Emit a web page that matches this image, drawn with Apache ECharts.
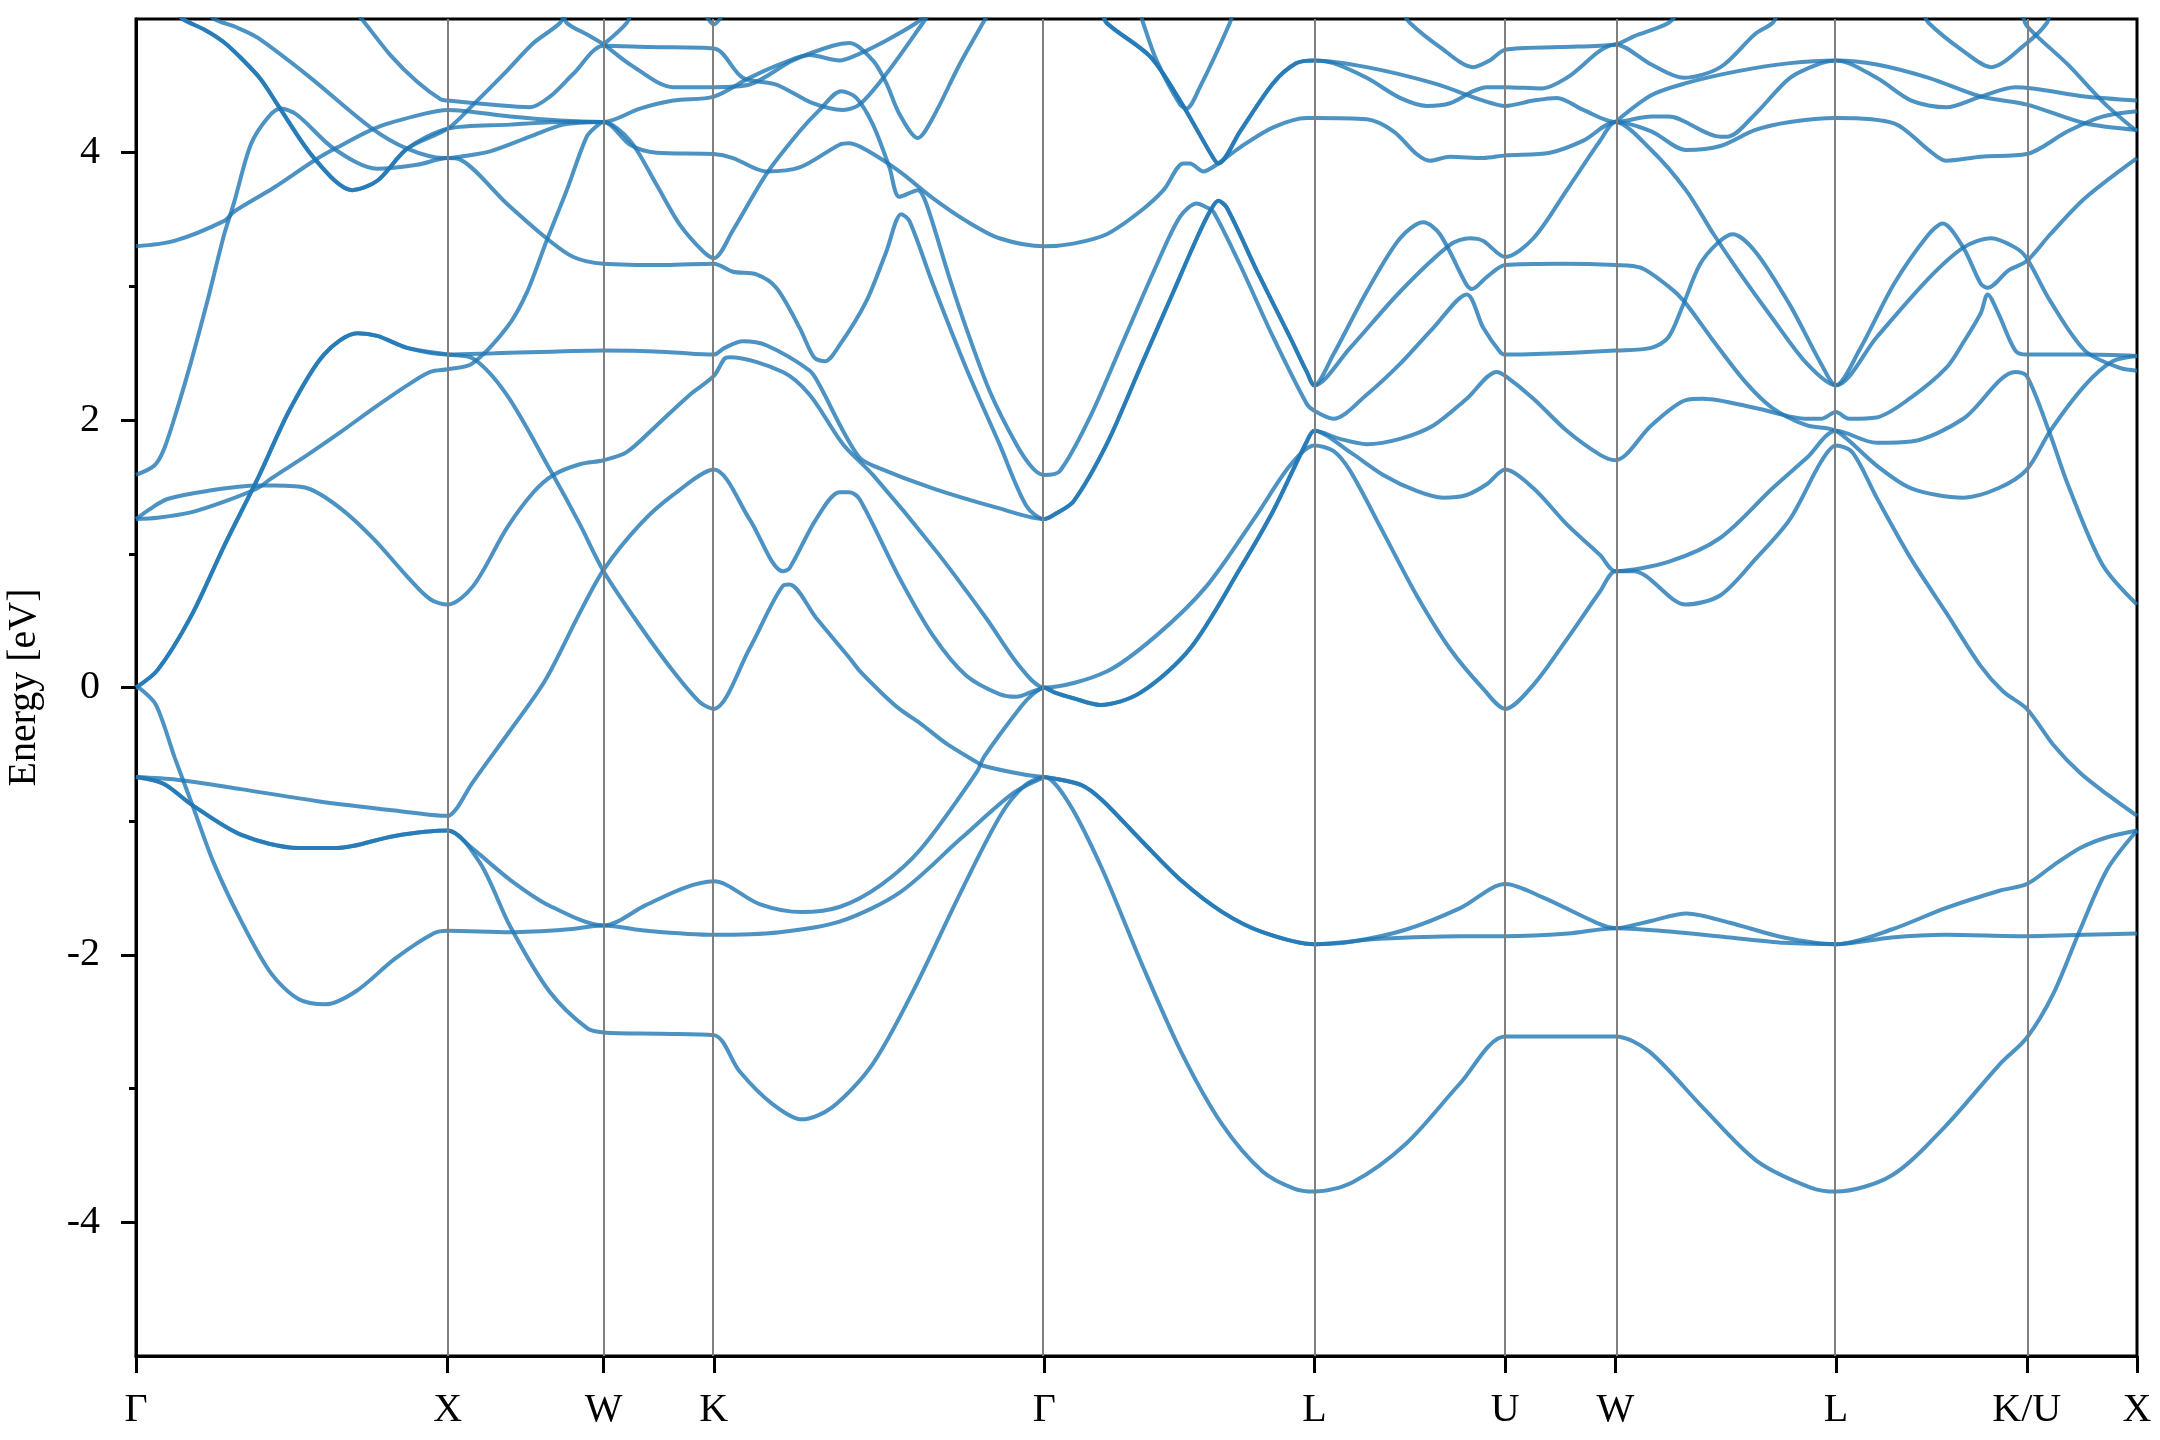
<!DOCTYPE html>
<html><head><meta charset="utf-8">
<script src="https://cdn.jsdelivr.net/npm/echarts@6/dist/echarts.min.js"></script>
<style>html,body{margin:0;padding:0;background:#fff}#c{width:2160px;height:1440px}</style>
</head><body><div id="c"></div>
<script>
// high-symmetry path positions and labels
const kPts = [0, 1, 1.5, 1.853553, 2.914214, 3.780239, 4.392611, 4.746165, 5.453272, 6.065644, 6.419197];
const kLabels = ['Γ','X','W','K','Γ','L','U','W','L','K/U','X'];
const yMajor = [-4,-2,0,2,4];
const yMinor = [-3,-1,1,3];

// bands: [k, energy (eV)]
const b01 = [[0,0],[0.014,-0.01],[0.064,-0.13],[0.125,-0.53],[0.181,-0.88],[0.249,-1.31],[0.336,-1.74],[0.434,-2.14],[0.521,-2.33],[0.608,-2.37],[0.707,-2.27],[0.83,-2.03],[0.954,-1.84],[1.0,-1.82],[1.2,-1.83],[1.38,-1.81],[1.5,-1.78],[1.64,-1.82],[1.8536,-1.85],[2.065,-1.83],[2.259,-1.75],[2.452,-1.53],[2.646,-1.13],[2.814,-0.79],[2.914,-0.67]];
const b02 = [[0,-0.67],[0.088,-0.72],[0.181,-0.88],[0.336,-1.10],[0.521,-1.20],[0.645,-1.20],[0.83,-1.11],[1.0,-1.07],[1.077,-1.20],[1.201,-1.44],[1.325,-1.63],[1.5,-1.78],[1.634,-1.63],[1.757,-1.50],[1.8536,-1.45],[2.0,-1.62],[2.136,-1.68],[2.259,-1.64],[2.388,-1.48],[2.517,-1.21],[2.698,-0.63],[2.72,-0.52],[2.84,-0.14],[2.877,-0.05],[2.914,0],[2.95,-0.04],[3.007,-0.08],[3.093,-0.13],[3.221,-0.04],[3.381,0.29],[3.542,0.89],[3.648,1.32],[3.756,1.84],[3.7802,1.92],[3.862,1.86],[3.948,1.82],[4.055,1.86],[4.162,1.96],[4.269,2.16],[4.365,2.36],[4.3926,2.33],[4.483,2.16],[4.59,1.92],[4.697,1.74],[4.7462,1.70],[4.861,1.96],[4.972,2.15],[5.028,2.16],[5.195,2.09],[5.361,2.01],[5.406,2.01],[5.4533,2.06],[5.495,2.01],[5.584,2.02],[5.695,2.17],[5.807,2.39],[5.862,2.58],[5.918,2.80],[5.94,2.94],[5.974,2.80],[6.029,2.52],[6.0657,2.49],[6.25,2.49],[6.4193,2.48]];
const b03 = [[0,-0.67],[0.088,-0.72],[0.181,-0.88],[0.336,-1.10],[0.521,-1.20],[0.645,-1.20],[0.83,-1.11],[1.0,-1.07],[1.103,-1.31],[1.201,-1.79],[1.325,-2.27],[1.448,-2.55],[1.5,-2.58],[1.68,-2.59],[1.8536,-2.6],[1.936,-2.87],[2.039,-3.11],[2.136,-3.23],[2.233,-3.14],[2.362,-2.82],[2.491,-2.28],[2.646,-1.53],[2.775,-0.95],[2.853,-0.73],[2.914,-0.67],[2.994,-0.87],[3.098,-1.35],[3.227,-2.07],[3.356,-2.74],[3.485,-3.27],[3.614,-3.62],[3.717,-3.75],[3.7802,-3.77],[3.903,-3.70],[4.075,-3.41],[4.248,-2.96],[4.3926,-2.61],[4.57,-2.61],[4.7462,-2.61],[4.853,-2.72],[5.026,-3.14],[5.199,-3.54],[5.372,-3.74],[5.4533,-3.77],[5.632,-3.65],[5.805,-3.28],[5.978,-2.82],[6.0657,-2.62],[6.151,-2.29],[6.237,-1.81],[6.324,-1.36],[6.4193,-1.07]];
const b04 = [[0,-0.67],[0.131,-0.69],[0.336,-0.76],[0.583,-0.85],[0.83,-0.92],[1.0,-0.96],[1.03,-0.90],[1.077,-0.72],[1.201,-0.32],[1.312,0.05],[1.424,0.56],[1.5,0.88],[1.617,1.22],[1.723,1.44],[1.8536,1.63],[1.968,1.26],[2.075,0.87],[2.096,0.89],[2.182,1.26],[2.257,1.46],[2.289,1.46],[2.321,1.41],[2.449,0.82],[2.556,0.39],[2.663,0.09],[2.77,-0.05],[2.824,-0.07],[2.877,-0.03],[2.914,0]];
const b06 = [[0,0],[0.069,0.13],[0.176,0.53],[0.283,1.06],[0.39,1.56],[0.496,2.09],[0.603,2.49],[0.71,2.65],[0.774,2.63],[0.87,2.54],[1.0,2.49],[1.15,2.50],[1.3,2.51],[1.5,2.52],[1.7,2.51],[1.8536,2.49],[1.888,2.54],[1.947,2.59],[2.022,2.56],[2.161,2.37],[2.193,2.26],[2.268,1.92],[2.321,1.72],[2.364,1.66],[2.556,1.49],[2.77,1.34],[2.914,1.26],[2.95,1.30],[3.007,1.39],[3.114,1.82],[3.221,2.39],[3.328,2.96],[3.403,3.36],[3.445,3.56],[3.472,3.64],[3.499,3.59],[3.595,3.12],[3.702,2.62],[3.756,2.36],[3.7802,2.26],[3.895,2.54],[4.055,2.96],[4.215,3.31],[4.279,3.36],[4.322,3.34],[4.3926,3.22],[4.483,3.36],[4.59,3.72],[4.697,4.09],[4.7462,4.23],[4.861,4.02],[4.972,3.72],[5.061,3.39],[5.139,3.12],[5.25,2.76],[5.361,2.42],[5.4533,2.26],[5.584,2.62],[5.751,3.06],[5.862,3.29],[5.951,3.36],[6.029,3.29],[6.0657,3.21],[6.141,2.89],[6.252,2.52],[6.364,2.39],[6.4193,2.37]];
const b07 = [[0,0],[0.069,0.13],[0.176,0.53],[0.283,1.06],[0.39,1.56],[0.496,2.09],[0.603,2.49],[0.71,2.65],[0.774,2.63],[0.87,2.54],[1.0,2.49],[1.082,2.46],[1.189,2.19],[1.328,1.63],[1.424,1.22],[1.5,0.87],[1.617,0.46],[1.724,0.12],[1.809,-0.11],[1.8536,-0.16],[1.968,0.29],[2.075,0.76],[2.096,0.77],[2.182,0.52],[2.289,0.22],[2.323,0.12],[2.396,-0.05],[2.449,-0.16],[2.517,-0.27],[2.6,-0.42],[2.698,-0.56],[2.717,-0.585],[2.84,-0.647],[2.914,-0.67]];
const b08 = [[0,1.26],[0.069,1.27],[0.176,1.31],[0.283,1.39],[0.39,1.49],[0.432,1.56],[0.55,1.74],[0.656,1.91],[0.763,2.09],[0.87,2.26],[0.944,2.36],[1.0,2.38],[1.077,2.42],[1.189,2.69],[1.253,2.95],[1.317,3.34],[1.382,3.72],[1.446,4.12],[1.478,4.2],[1.5,4.23],[1.585,4.09],[1.67,3.76],[1.745,3.46],[1.82,3.26],[1.8536,3.21],[1.915,3.42],[2.022,3.84],[2.129,4.16],[2.193,4.32],[2.262,4.46],[2.311,4.41],[2.364,4.21],[2.417,3.89],[2.449,3.67],[2.508,3.72],[2.535,3.62],[2.61,3.06],[2.663,2.69],[2.738,2.22],[2.824,1.82],[2.877,1.64],[2.914,1.59],[2.964,1.62],[3.06,2.02],[3.167,2.59],[3.274,3.16],[3.349,3.52],[3.403,3.62],[3.435,3.59],[3.456,3.56],[3.542,3.16],[3.648,2.62],[3.756,2.12],[3.7802,2.07],[3.841,2.01],[3.948,2.19],[4.055,2.42],[4.162,2.69],[4.269,2.94],[4.322,2.69],[4.376,2.51],[4.3926,2.49],[4.57,2.50],[4.7462,2.52],[4.861,2.54],[4.916,2.62],[4.961,2.85],[5.016,3.16],[5.072,3.32],[5.122,3.39],[5.195,3.26],[5.306,2.86],[5.406,2.42],[5.4533,2.26],[5.528,2.52],[5.64,3.02],[5.751,3.39],[5.796,3.47],[5.862,3.29],[5.918,3.02],[5.94,2.99],[6.007,3.12],[6.0657,3.19],[6.141,3.39],[6.252,3.66],[6.4193,3.96]];
const b09 = [[0,1.26],[0.048,1.34],[0.101,1.41],[0.229,1.47],[0.39,1.51],[0.443,1.51],[0.55,1.49],[0.656,1.34],[0.763,1.11],[0.87,0.83],[0.944,0.66],[1.0,0.62],[1.082,0.76],[1.189,1.19],[1.275,1.46],[1.339,1.59],[1.424,1.67],[1.5,1.70],[1.574,1.76],[1.67,1.96],[1.777,2.19],[1.8536,2.33],[1.888,2.46],[1.905,2.47],[2.075,2.36],[2.161,2.19],[2.268,1.82],[2.364,1.59],[2.567,1.02],[2.727,0.52],[2.834,0.16],[2.914,0],[3.114,0.12],[3.274,0.39],[3.435,0.76],[3.595,1.29],[3.702,1.66],[3.7802,1.81],[3.841,1.77],[3.895,1.62],[4.001,1.16],[4.108,0.69],[4.215,0.29],[4.322,-0.01],[4.3926,-0.16],[4.483,0.02],[4.59,0.36],[4.697,0.72],[4.7462,0.87],[4.805,0.87],[4.972,0.62],[5.083,0.69],[5.195,0.96],[5.306,1.26],[5.406,1.69],[5.4533,1.81],[5.506,1.76],[5.584,1.42],[5.695,0.96],[5.807,0.56],[5.918,0.16],[5.99,-0.03],[6.0657,-0.16],[6.151,-0.43],[6.237,-0.64],[6.324,-0.80],[6.4193,-0.96]];
const b10 = [[0,1.59],[0.059,1.66],[0.091,1.79],[0.133,2.09],[0.176,2.43],[0.229,2.89],[0.283,3.39],[0.315,3.63],[0.368,4.06],[0.422,4.26],[0.464,4.33],[0.518,4.28],[0.635,4.03],[0.774,3.88],[0.902,3.91],[1.0,3.96],[1.039,3.95],[1.189,3.62],[1.317,3.36],[1.403,3.22],[1.5,3.17],[1.7,3.16],[1.8536,3.17],[1.915,3.11],[1.99,3.09],[2.054,2.99],[2.129,2.69],[2.175,2.47],[2.21,2.44],[2.257,2.56],[2.343,2.89],[2.407,3.26],[2.455,3.54],[2.481,3.49],[2.556,3.02],[2.663,2.39],[2.77,1.82],[2.856,1.36],[2.914,1.26],[2.95,1.30],[3.007,1.39],[3.114,1.82],[3.221,2.39],[3.328,2.96],[3.403,3.36],[3.445,3.56],[3.472,3.64],[3.499,3.59],[3.595,3.12],[3.702,2.62],[3.756,2.36],[3.7802,2.26],[3.841,2.49],[3.948,2.96],[4.055,3.36],[4.13,3.48],[4.183,3.39],[4.269,3.01],[4.285,2.98],[4.333,3.07],[4.3926,3.16],[4.57,3.17],[4.7462,3.16],[4.827,3.14],[4.916,3.00],[4.966,2.89],[5.061,2.59],[5.161,2.29],[5.25,2.09],[5.361,1.96],[5.4533,1.92],[5.584,1.66],[5.695,1.49],[5.862,1.42],[5.974,1.49],[6.0657,1.63],[6.141,1.92],[6.252,2.26],[6.341,2.44],[6.4193,2.48]];
const b12 = [[0,3.30],[0.123,3.34],[0.283,3.49],[0.315,3.56],[0.443,3.74],[0.571,3.94],[0.646,4.04],[0.774,4.19],[0.923,4.29],[1.0,4.32],[1.2,4.27],[1.36,4.24],[1.5,4.23],[1.617,4.33],[1.724,4.39],[1.8536,4.42],[1.968,4.56],[2.075,4.67],[2.161,4.73],[2.257,4.69],[2.311,4.73],[2.407,4.84],[2.503,4.97],[2.55,5.06]];
const b13 = [[0.13,5.06],[0.15,5.0],[0.22,4.92],[0.28,4.83],[0.336,4.71],[0.4,4.55],[0.454,4.36],[0.571,3.96],[0.694,3.72],[0.774,3.79],[0.87,4.03],[1.0,4.18],[1.082,4.36],[1.189,4.61],[1.275,4.82],[1.36,4.97],[1.38,5.06]];
const b14 = [[0.13,5.06],[0.15,5.0],[0.22,4.92],[0.28,4.83],[0.336,4.71],[0.4,4.55],[0.454,4.36],[0.571,3.96],[0.694,3.72],[0.774,3.79],[0.87,4.03],[1.0,4.18],[1.2,4.21],[1.36,4.23],[1.5,4.23],[1.585,4.06],[1.67,4.00],[1.8536,3.99],[1.915,3.96],[2.022,3.86],[2.129,3.89],[2.257,4.06],[2.289,4.07],[2.343,4.02],[2.449,3.86],[2.556,3.66],[2.663,3.49],[2.77,3.36],[2.914,3.30],[3.007,3.32],[3.114,3.39],[3.221,3.56],[3.296,3.72],[3.36,3.92],[3.381,3.92],[3.424,3.86],[3.466,3.91],[3.542,4.04],[3.648,4.19],[3.756,4.26],[3.7802,4.26],[3.948,4.25],[4.034,4.16],[4.108,3.99],[4.151,3.94],[4.215,3.97],[4.322,3.96],[4.3926,3.98],[4.536,4.0],[4.643,4.09],[4.7462,4.23],[4.861,4.16],[4.972,4.02],[5.083,4.05],[5.195,4.17],[5.306,4.23],[5.4533,4.26],[5.64,4.22],[5.751,4.02],[5.807,3.94],[5.918,3.97],[6.0657,3.99],[6.197,4.16],[6.308,4.27],[6.4193,4.31]];
const b15 = [[0.23,5.06],[0.25,5.0],[0.32,4.94],[0.39,4.86],[0.56,4.56],[0.752,4.19],[0.87,4.03],[0.987,3.96],[1.0,3.96],[1.039,3.97],[1.136,4.01],[1.264,4.12],[1.371,4.21],[1.5,4.23]];
const b16 = [[0.70,5.06],[0.731,4.98],[0.816,4.73],[0.902,4.53],[0.977,4.40],[1.0,4.39],[1.136,4.36],[1.264,4.34],[1.328,4.42],[1.403,4.59],[1.5,4.80],[1.65,4.79],[1.8536,4.78],[1.947,4.56],[2.054,4.51],[2.171,4.37],[2.268,4.32],[2.321,4.36],[2.407,4.59],[2.524,4.97],[2.55,5.06]];
const b17 = [[1.37,5.06],[1.382,4.97],[1.45,4.88],[1.5,4.81],[1.585,4.66],[1.724,4.49],[1.8536,4.49],[1.968,4.51],[2.107,4.69],[2.235,4.80],[2.289,4.82],[2.364,4.69],[2.407,4.52],[2.449,4.29],[2.508,4.11],[2.556,4.26],[2.642,4.66],[2.717,4.97],[2.74,5.06]];
const b18 = [[1.5,4.81],[1.574,4.97],[1.59,5.06]];
const b19 = [[1.82,5.06],[1.8536,4.96],[1.89,5.06]];
const b20 = [[3.1,5.06],[3.114,4.97],[3.253,4.72],[3.349,4.39],[3.456,3.96],[3.472,3.92],[3.542,4.16],[3.648,4.52],[3.723,4.67],[3.7802,4.69],[3.841,4.67],[3.948,4.56],[4.055,4.41],[4.141,4.35],[4.215,4.37],[4.29,4.46],[4.333,4.49],[4.3926,4.49],[4.51,4.48],[4.59,4.56],[4.7462,4.81],[4.861,4.66],[4.966,4.56],[5.083,4.64],[5.195,4.89],[5.25,4.97],[5.27,5.06]];
const b21 = [[3.1,5.06],[3.114,4.97],[3.253,4.72],[3.349,4.39],[3.456,3.96],[3.472,3.92],[3.542,4.16],[3.648,4.52],[3.723,4.67],[3.7802,4.69],[3.948,4.64],[4.162,4.52],[4.322,4.39],[4.3926,4.35],[4.483,4.39],[4.558,4.41],[4.643,4.32],[4.7462,4.23],[4.861,4.27],[4.916,4.27],[5.083,4.12],[5.106,4.12],[5.195,4.29],[5.306,4.56],[5.406,4.67],[5.4533,4.69],[5.584,4.66],[5.751,4.56],[5.918,4.42],[6.0657,4.36],[6.252,4.22],[6.4193,4.17]];
const b22 = [[3.22,5.06],[3.231,4.97],[3.274,4.69],[3.349,4.36],[3.37,4.33],[3.413,4.49],[3.509,4.97],[3.52,5.06]];
const b23 = [[4.7462,4.23],[4.861,4.43],[4.972,4.52],[5.139,4.61],[5.306,4.67],[5.4533,4.69],[5.584,4.56],[5.695,4.39],[5.807,4.34],[5.918,4.42],[6.029,4.49],[6.252,4.42],[6.4193,4.39]];
const b24 = [[4.06,5.06],[4.087,4.97],[4.183,4.79],[4.29,4.64],[4.343,4.69],[4.3926,4.77],[4.57,4.79],[4.7462,4.81],[4.805,4.87],[4.916,4.97],[4.95,5.06]];
const b25 = [[5.73,5.06],[5.751,4.97],[5.862,4.76],[5.951,4.64],[6.0657,4.82],[6.13,4.97],[6.14,5.06]];
const b26 = [[6.05,5.06],[6.0657,4.95],[6.197,4.66],[6.319,4.36],[6.4193,4.16]];
const b28 = [[2.914,0],[2.95,-0.04],[3.007,-0.08],[3.093,-0.13],[3.221,-0.04],[3.381,0.29],[3.542,0.89],[3.648,1.32],[3.756,1.84],[3.7802,1.92],[3.895,1.76],[4.001,1.59],[4.108,1.47],[4.194,1.42],[4.269,1.44],[4.333,1.52],[4.3926,1.63],[4.483,1.49],[4.59,1.22],[4.697,0.99],[4.7462,0.87],[4.916,0.94],[5.083,1.12],[5.25,1.49],[5.361,1.72],[5.4533,1.92],[5.584,1.83],[5.695,1.84],[5.862,2.01],[6.029,2.36],[6.0657,2.33],[6.141,1.89],[6.197,1.52],[6.308,0.92],[6.4193,0.62]];
const b29 = [[2.914,-0.67],[3.033,-0.73],[3.098,-0.84],[3.227,-1.15],[3.356,-1.45],[3.485,-1.68],[3.614,-1.83],[3.7802,-1.92],[3.903,-1.90],[4.075,-1.81],[4.248,-1.65],[4.3926,-1.47],[4.513,-1.57],[4.686,-1.76],[4.7462,-1.80],[4.853,-1.75],[4.974,-1.69],[5.113,-1.76],[5.286,-1.87],[5.4533,-1.92],[5.632,-1.81],[5.805,-1.65],[5.978,-1.52],[6.0657,-1.47],[6.151,-1.33],[6.237,-1.20],[6.324,-1.12],[6.4193,-1.07]];
const b30 = [[2.914,-0.67],[3.033,-0.73],[3.098,-0.84],[3.227,-1.15],[3.356,-1.45],[3.485,-1.68],[3.614,-1.83],[3.7802,-1.92],[3.99,-1.88],[4.248,-1.86],[4.3926,-1.86],[4.594,-1.84],[4.7462,-1.80],[4.943,-1.83],[5.113,-1.87],[5.286,-1.91],[5.4533,-1.92],[5.632,-1.87],[5.805,-1.85],[6.0657,-1.86],[6.25,-1.85],[6.4193,-1.84]];

const bands = [b01,b02,b03,b04,b06,b07,b08,b09,b10,b12,b13,b14,b15,b16,b17,b18,b19,b20,b21,b22,b23,b24,b25,b26,b28,b29,b30];

const FONT = "'Liberation Serif', 'Times New Roman', Times, serif";
function kLabel(v){
  for (let i = 0; i < kPts.length; i++) if (Math.abs(v - kPts[i]) < 1e-4) return kLabels[i];
  return '';
}
const series = [{
  type: 'line', data: [], silent: true, animation: false,
  markLine: {
    silent: true, animation: false, symbol: ['none','none'], label: {show: false},
    lineStyle: {color: '#808080', width: 2, type: 'solid'},
    emphasis: {disabled: true},
    data: kPts.slice(1, -1).map(v => ({xAxis: v}))
  }
}];
bands.forEach(b => series.push({
  type: 'line', data: b, showSymbol: false, smooth: 0.3, silent: true, animation: false,
  lineStyle: {color: '#1f77b4', width: 4, opacity: 0.8}
}));

const chart = echarts.init(document.getElementById('c'), null, {renderer: 'canvas'});
chart.setOption({
  animation: false,
  backgroundColor: '#fff',
  grid: {left: 136, right: 23, top: 19, bottom: 84, show: true, borderColor: '#000', borderWidth: 3,
         containLabel: false, outerBoundsMode: 'none'},
  xAxis: {
    type: 'value', min: 0, max: kPts[kPts.length - 1],
    axisLine: {show: true, onZero: false, lineStyle: {color: '#000', width: 3}},
    axisTick: {show: true, customValues: kPts, length: 17, lineStyle: {color: '#000', width: 3}},
    axisLabel: {customValues: kPts, formatter: kLabel, color: '#000', fontFamily: FONT, fontSize: 40, margin: 34},
    splitLine: {show: false}
  },
  yAxis: [{
    type: 'value', min: -5, max: 5, interval: 1,
    axisLine: {show: true, onZero: false, lineStyle: {color: '#000', width: 3}},
    axisTick: {show: true, customValues: yMajor, length: 15, lineStyle: {color: '#000', width: 3}},
    axisLabel: {customValues: yMajor, formatter: v => String(v), color: '#000', fontFamily: FONT, fontSize: 40, margin: 36},
    splitLine: {show: false},
    name: 'Energy [eV]', nameLocation: 'middle', nameGap: 92, nameRotate: 90,
    nameTextStyle: {color: '#000', fontFamily: FONT, fontSize: 40}
  }, {
    type: 'value', min: -5, max: 5, interval: 1, position: 'left',
    axisLine: {show: false, onZero: false},
    axisTick: {show: true, customValues: yMinor, length: 7, lineStyle: {color: '#000', width: 3}},
    axisLabel: {show: false},
    splitLine: {show: false}
  }],
  series: series
});
</script>
</body></html>
